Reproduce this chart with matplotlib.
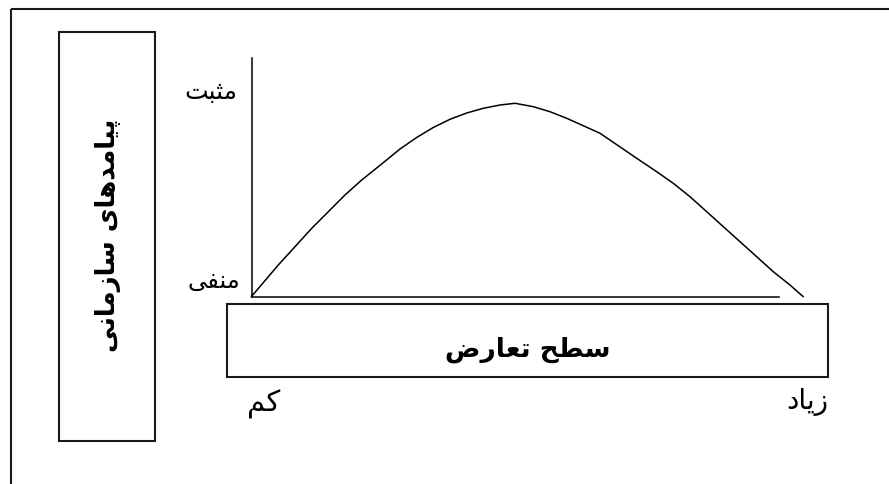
import matplotlib
matplotlib.use("Agg")
import matplotlib.pyplot as plt
from matplotlib.patches import Rectangle
from matplotlib import font_manager
from matplotlib.ft2font import FT2Font

# ---------------- data ----------------
conflict_level = [0, 4.86, 7.89, 10.92, 13.93, 16.95, 19.98, 22.99, 26.93, 29.95,
                  32.96, 35.99, 39.02, 42.03, 45.06, 47.78, 51.10, 54.13, 57.15,
                  60.16, 63.20, 70.44, 73.47, 76.48, 79.51, 82.54, 85.55, 88.58,
                  91.60, 94.61, 97.64, 100]
outcome = [0, 13.21, 20.88, 28.60, 35.56, 42.56, 48.85, 54.42, 61.84, 66.67,
           70.86, 74.30, 76.94, 78.91, 80.29, 81.01, 79.58, 77.48, 74.72,
           71.61, 68.43, 57.02, 52.33, 47.46, 41.84, 35.56, 29.27, 22.98,
           16.69, 10.40, 4.82, 0]

y_label = "پیامدهای سازمانی"
x_label = "سطح تعارض"
y_tick_labels = ["منفی", "مثبت"]
x_tick_labels = ["کم", "زیاد"]

# ---------------- minimal Arabic/Persian shaping ----------------
# letter: (isolated, final, initial, medial) ; None for right-joining letters
FORMS = {
    "ا": (0xFE8D, 0xFE8E, None, None),
    "ب": (0xFE8F, 0xFE90, 0xFE91, 0xFE92),
    "ت": (0xFE95, 0xFE96, 0xFE97, 0xFE98),
    "ث": (0xFE99, 0xFE9A, 0xFE9B, 0xFE9C),
    "ح": (0xFEA1, 0xFEA2, 0xFEA3, 0xFEA4),
    "د": (0xFEA9, 0xFEAA, None, None),
    "ر": (0xFEAD, 0xFEAE, None, None),
    "ز": (0xFEAF, 0xFEB0, None, None),
    "س": (0xFEB1, 0xFEB2, 0xFEB3, 0xFEB4),
    "ض": (0xFEBD, 0xFEBE, 0xFEBF, 0xFEC0),
    "ط": (0xFEC1, 0xFEC2, 0xFEC3, 0xFEC4),
    "ع": (0xFEC9, 0xFECA, 0xFECB, 0xFECC),
    "ف": (0xFED1, 0xFED2, 0xFED3, 0xFED4),
    "م": (0xFEE1, 0xFEE2, 0xFEE3, 0xFEE4),
    "ن": (0xFEE5, 0xFEE6, 0xFEE7, 0xFEE8),
    "ه": (0xFEE9, 0xFEEA, 0xFEEB, 0xFEEC),
    "پ": (0xFB56, 0xFB57, 0xFB58, 0xFB59),
    "ک": (0xFB8E, 0xFB8F, 0xFB90, 0xFB91),
    "ی": (0xFBFC, 0xFBFD, 0xFBFE, 0xFBFF),
}
FALLBACK = {  # Arabic equivalents if Persian presentation forms are missing
    "ک": (0xFED9, 0xFEDA, 0xFEDB, 0xFEDC),
    "ی": (0xFEEF, 0xFEF0, 0xFEF3, 0xFEF4),
}

def _charmap(bold):
    prop = font_manager.FontProperties(family="DejaVu Sans",
                                       weight="bold" if bold else "normal")
    return FT2Font(font_manager.findfont(prop)).get_charmap()

CMAPS = {False: _charmap(False), True: _charmap(True)}

def shape(text, bold=False):
    cmap = CMAPS[bold]
    out_words = []
    for w in text.split(" "):
        chars = list(w)
        res = []
        for i, c in enumerate(chars):
            forms = FORMS.get(c)
            if forms is None:
                res.append(c)
                continue
            if any(f is not None and f not in cmap for f in forms) and c in FALLBACK:
                forms = FALLBACK[c]
            prev = chars[i - 1] if i > 0 else None
            nxt = chars[i + 1] if i + 1 < len(chars) else None
            join_prev = prev is not None and prev in FORMS and FORMS[prev][2] is not None
            join_next = forms[2] is not None and nxt is not None and nxt in FORMS
            if join_prev and join_next:
                cp = forms[3]
            elif join_prev:
                cp = forms[1]
            elif join_next:
                cp = forms[2]
            else:
                cp = forms[0]
            res.append(chr(cp))
        out_words.append("".join(reversed(res)))
    return " ".join(reversed(out_words))

# ---------------- figure ----------------
W, H = 889, 484
fig = plt.figure(figsize=(W / 100, H / 100), dpi=100)
fig.patch.set_facecolor("white")

# overlay axes in pixel coordinates for frames and labels
ov = fig.add_axes([0, 0, 1, 1])
ov.set_xlim(0, W)
ov.set_ylim(H, 0)
ov.axis("off")

frame_color = "#1a1a1a"
# outer frame (right and bottom edges lie outside the picture)
ov.plot([11, W + 5], [8.5, 8.5], color=frame_color, lw=1.5, solid_capstyle="butt")
ov.plot([11, 11], [8.5, H + 5], color=frame_color, lw=1.5, solid_capstyle="butt")

# left box with the vertical title
ov.add_patch(Rectangle((59, 32.3), 96, 408.4, fill=False, ec=frame_color, lw=1.5))
ov.text(108, 235, shape(y_label, True), rotation=90, ha="center", va="center",
        fontsize=18.6, fontweight="bold", family="DejaVu Sans", color="black")

# bottom box with the horizontal title
ov.add_patch(Rectangle((227, 304), 601, 72.7, fill=False, ec=frame_color, lw=1.5))
ov.text(527.5, 350, shape(x_label, True), ha="center", va="center",
        fontsize=19, fontweight="bold", family="DejaVu Sans", color="black")

# axis end labels
ov.text(214, 281, shape(y_tick_labels[0]), ha="center", va="center",
        fontsize=17.5, family="DejaVu Sans", color="black")
ov.text(211, 92, shape(y_tick_labels[1]), ha="center", va="center",
        fontsize=18, family="DejaVu Sans", color="black")
ov.text(264, 404, shape(x_tick_labels[0]), ha="center", va="center",
        fontsize=21, family="DejaVu Sans", color="black")
ov.text(807, 402, shape(x_tick_labels[1]), ha="center", va="center",
        fontsize=20, family="DejaVu Sans", color="black")

# plot axes
x0, x1 = 251.5, 803
y0, y1 = 296.5, 58
ax = fig.add_axes([x0 / W, 1 - y0 / H, (x1 - x0) / W, (y0 - y1) / H])
ax.patch.set_alpha(0)
ax.set_xlim(0, 100)
ax.set_ylim(0, 100)
ax.plot(conflict_level, outcome, color="black", lw=1.1, clip_on=False,
        solid_joinstyle="round")
for s in ("top", "right"):
    ax.spines[s].set_visible(False)
ax.spines["left"].set_linewidth(1.1)
ax.spines["bottom"].set_linewidth(1.1)
ax.spines["bottom"].set_bounds(0, 95.7)
ax.set_xticks([])
ax.set_yticks([])

fig.savefig("out.png", dpi=100, facecolor="white")
